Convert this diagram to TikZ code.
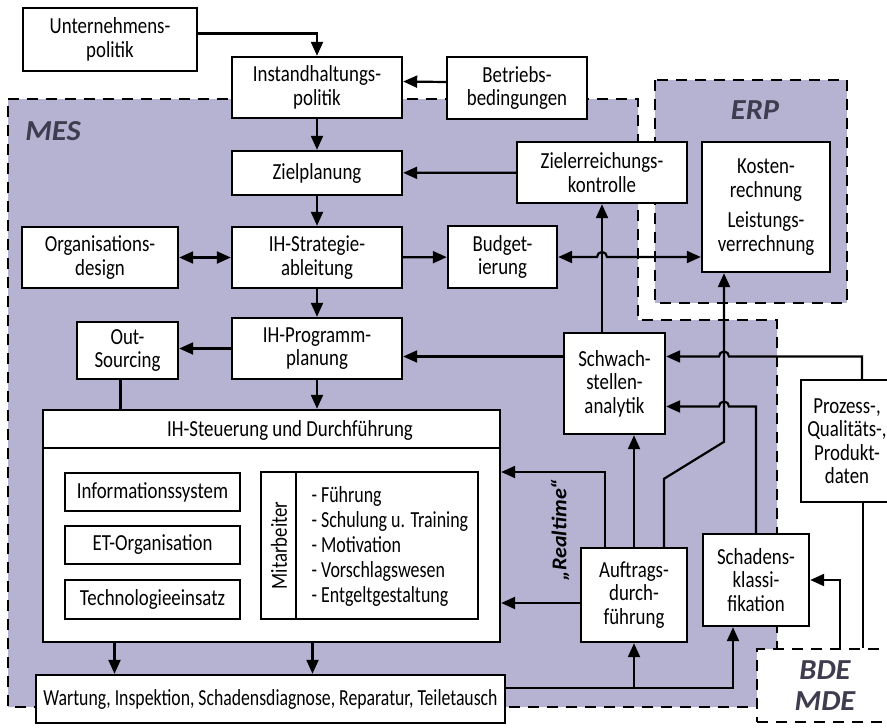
\documentclass[tikz,border=0pt]{standalone}
\usepackage{fontspec}
\setmainfont{Carlito}[FakeStretch=0.82]
\newfontfamily\wartungfont{Carlito}[FakeStretch=0.77]
\newfontfamily\listfont{Carlito}[FakeStretch=0.78]
\newfontfamily\regionfont{Carlito}[FakeStretch=1.05]
\usetikzlibrary{shapes,arrows.meta,calc}
\definecolor{regionfill}{RGB}{182,178,210}
\definecolor{regiontext}{RGB}{62,60,78}
\tikzstyle{block} = [rectangle, draw, fill=white, line width=2.4pt, align=center, inner sep=0pt]
\tikzstyle{line} = [draw, line width=2.2pt, ->]
\tikzstyle{plain} = [draw, line width=2.2pt]
\tikzstyle{region} = [draw, dash pattern=on 11pt off 8pt, line width=2.4pt, fill=regionfill]
\tikzstyle{regionlabel} = [font=\fontsize{29}{31}\regionfont\bfseries\itshape, text=regiontext, align=center]

\begin{document}
\begin{tikzpicture}[x=1pt, y=-1pt, font=\fontsize{23}{23.5}\selectfont,
    >={Triangle[length=14pt,width=12pt]}]
    \useasboundingbox (0,0) rectangle (887,728);
    \clip (0,0) rectangle (887,728);
    % regions
    \path [region] (8,99) -- (638,99) -- (638,320) -- (777,320) -- (777,707) -- (8,707) -- cycle;
    \path [region] (655,80) rectangle (847,303);
    \node [region, fill=white, minimum width=148pt, minimum height=73pt] (bde) at (831,685.5) {};
    \node [regionlabel] (meslabel) at (53,131) {MES};
    \node [regionlabel] (erplabel) at (755,110) {ERP};
    \node [regionlabel] (bdelabel) at (825,686) {BDE\\MDE};
    % blocks
    \node [block, minimum width=174pt, minimum height=63pt] (unternehmen) at (110,39.5) {Unternehmens-\\politik};
    \node [block, minimum width=170pt, minimum height=61pt] (instand) at (317,87.5) {Instandhaltungs-\\politik};
    \node [block, minimum width=140pt, minimum height=62pt] (betrieb) at (517,88) {Betriebs-\\bedingungen};
    \node [block, minimum width=170pt, minimum height=44pt] (ziel) at (317,173) {Zielplanung};
    \node [block, minimum width=170pt, minimum height=61pt] (zielerr) at (602,172.5) {Zielerreichungs-\\kontrolle};
    \node [block, minimum width=128pt, minimum height=130pt] (kosten) at (766,207) {Kosten-\\rechnung\\[7pt]Leistungs-\\verrechnung};
    \node [block, minimum width=156pt, minimum height=61pt] (orga) at (100,257.5) {Organisations-\\design};
    \node [block, minimum width=170pt, minimum height=61pt] (strategie) at (317,257.5) {IH-Strategie-\\ableitung};
    \node [block, minimum width=109pt, minimum height=62pt] (budget) at (502.5,257) {Budget-\\ierung};
    \node [block, minimum width=170pt, minimum height=61pt] (programm) at (317,348.5) {IH-Programm-\\planung};
    \node [block, minimum width=101pt, minimum height=57pt] (outsourcing) at (127.5,350.5) {Out-\\Sourcing};
    \node [block, minimum width=101pt, minimum height=101pt] (schwach) at (614.5,383.5) {Schwach-\\stellen-\\analytik};
    \node [block, minimum width=92pt, minimum height=122pt] (prozess) at (847,441) {Prozess-,\\Qualitäts-,\\Produkt-\\daten};
    % IH-Steuerung
    \node [block, minimum width=457pt, minimum height=232pt] (steuerung) at (271.5,526) {};
    \node (steuertitel) at (290,430) {IH-Steuerung und Durchführung};
    \draw [line width=2.4pt] ([yshift=-39pt]steuerung.north west) -- ([yshift=-39pt]steuerung.north east);
    \node [block, minimum width=175pt, minimum height=38pt] (info) at (152.5,492) {Informationssystem};
    \node [block, minimum width=175pt, minimum height=38pt] (etorg) at (152.5,545) {ET-Organisation};
    \node [block, minimum width=175pt, minimum height=39pt] (techno) at (152.5,599.5) {Technologieeinsatz};
    \node [block, minimum width=217pt, minimum height=147pt] (mitarb) at (369.5,545.5) {};
    \draw [line width=2.4pt] ([xshift=36pt]mitarb.north west) -- ([xshift=36pt]mitarb.south west);
    \node [rotate=90] (mitarbtitel) at (279,545.5) {Mitarbeiter};
    \node [anchor=west, align=left, font=\fontsize{23}{25.2}\listfont] (mitarbliste) at (308,546.5)
        {- Führung\\- Schulung u. Training\\- Motivation\\- Vorschlagswesen\\- Entgeltgestaltung};
    \node [block, minimum width=469pt, minimum height=48pt, font=\fontsize{23}{23.5}\wartungfont] (wartung) at (270.5,699)
        {Wartung, Inspektion, Schadensdiagnose, Reparatur, Teiletausch};
    \node [block, minimum width=106pt, minimum height=94pt] (auftrag) at (634,595) {Auftrags-\\durch-\\führung};
    \node [block, minimum width=106pt, minimum height=92pt] (schaden) at (756,580) {Schadens-\\klassi-\\fikation};
    \node [rotate=90, font=\fontsize{21}{23}\regionfont\bfseries\itshape] (realtime) at (560,530) {„Realtime“};
    % connectors
    \path [line] ([yshift=6pt]unternehmen.east) -| (instand.north);
    \path [line] ([yshift=6pt]betrieb.west) -- ([yshift=6pt]instand.east);
    \path [line] (instand) -- (ziel);
    \path [line] (zielerr) -- (ziel);
    \path [line] (ziel) -- (strategie);
    \path [line, <->] (orga) -- (strategie);
    \path [line] (strategie) -- (budget);
    \path [line, <->] (budget.east) -- ($(zielerr.south |- budget.east)+(-5,0)$)
        arc [start angle=180, end angle=0, radius=5pt] -- (budget.east -| kosten.west);
    \path [line] (strategie) -- (programm);
    \path [line] (programm.west) -- (programm.west -| outsourcing.east);
    \path [plain] ([xshift=-7pt]outsourcing.south) -- ([xshift=-7pt]outsourcing.south |- steuerung.north);
    \path [line] (programm.south) -- (programm.south |- steuerung.north);
    \path [line] (zielerr.south |- schwach.north) -- (zielerr.south);
    \coordinate (swest) at ([yshift=27pt]schwach.west);
    \path [line] (swest) -- (swest -| programm.east);
    % Auftragsdurchfuehrung
    \path [line] (auftrag.north) -- (auftrag.north |- schwach.south);
    \coordinate (aout1) at ([xshift=-29pt]auftrag.north);
    \coordinate (ain1) at ([yshift=54pt]steuerung.east);
    \path [line] (aout1) |- (ain1);
    \coordinate (aout2) at ([yshift=-8pt]auftrag.west);
    \path [line] (aout2) -- (aout2 -| steuerung.east);
    \coordinate (aout3) at ([xshift=30pt]auftrag.north);
    \coordinate (kin) at ([xshift=-42pt]kosten.south);
    \path [line] (aout3) -- ++(0,-68) -- ++(60,-37) -- (kin);
    % Daten zur Schwachstellenanalytik
    \coordinate (seast1) at ([yshift=27pt]schwach.east);
    \coordinate (seast2) at ([yshift=-23pt]schwach.east);
    \coordinate (pout) at ([xshift=15pt]prozess.north);
    \path [line] (pout) |- ($(kin |- seast1)+(5,0)$)
        arc [start angle=0, end angle=180, radius=5pt] -- (seast1);
    \path [line] (schaden.north) |- ($(kin |- seast2)+(5,0)$)
        arc [start angle=0, end angle=180, radius=5pt] -- (seast2);
    % Wartung
    \coordinate (wout) at ([yshift=11pt]wartung.east);
    \coordinate (sin) at ([xshift=-23pt]schaden.south);
    \path [line] (wout) -| (sin);
    \path [line] (wout -| auftrag.south) -- (auftrag.south);
    \coordinate (st1) at ([xshift=-157pt]steuerung.south);
    \coordinate (st2) at ([xshift=41pt]steuerung.south);
    \path [line] (st1) -- (st1 |- wartung.north);
    \path [line] (st2) -- (st2 |- wartung.north);
    % BDE / MDE
    \coordinate (bout1) at ([xshift=9pt]bde.north);
    \path [line] (bout1) |- (schaden.east);
    \coordinate (bout2) at ([xshift=32pt]bde.north);
    \path [plain] (bout2) -- (bout2 |- prozess.south);
\end{tikzpicture}
\end{document}
